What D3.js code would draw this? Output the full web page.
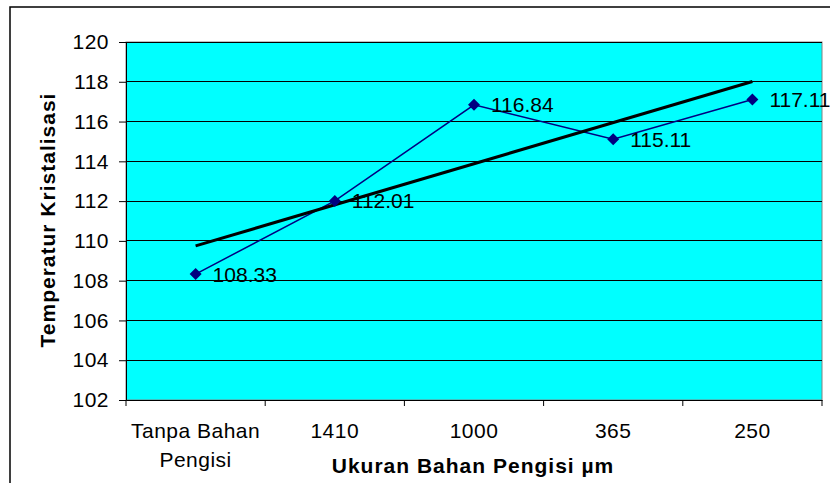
<!DOCTYPE html>
<html><head><meta charset="utf-8">
<script src="https://cdn.jsdelivr.net/npm/d3@7"></script>
<style>html,body{margin:0;padding:0;background:#fff;}svg{display:block;font-family:"Liberation Sans",Arial,sans-serif;}</style>
</head><body><svg id="c" width="830" height="483"></svg>
<script>
const categories = ["Tanpa Bahan|Pengisi", "1410", "1000", "365", "250"];
const values = [108.33, 112.01, 116.84, 115.11, 117.11];
const yTicks = [102,104,106,108,110,112,114,116,118,120];
const yTitle = "Temperatur Kristalisasi";
const xTitle = "Ukuran Bahan Pengisi µm";

const svg = d3.select("#c");
const L=126, R=822, T=42, B=400;
const FF = "Liberation Sans, Arial, sans-serif";
// outer frame
svg.append("rect").attr("x",10).attr("y",7).attr("width",840).attr("height",500)
  .attr("fill","#fff").attr("stroke","#000").attr("stroke-width",1.5);

const x = d3.scaleBand().domain(categories).range([L,R]).padding(0);
const y = d3.scaleLinear().domain([102,120]).range([B,T]);

svg.append("rect").attr("x",L).attr("y",T).attr("width",R-L).attr("height",B-T)
  .attr("fill","#00FFFF").attr("stroke","#808080").attr("stroke-width",1);

// gridlines
svg.append("g").selectAll("line").data(yTicks.filter(d=>d>102)).join("line")
  .attr("x1",L).attr("x2",R).attr("y1",d=>y(d)).attr("y2",d=>y(d))
  .attr("stroke","#000").attr("stroke-width",1).attr("shape-rendering","crispEdges");

// y axis
const ya = svg.append("g").attr("transform",`translate(${L},0)`)
  .call(d3.axisLeft(y).tickValues(yTicks).tickSize(7).tickPadding(10).tickFormat(d3.format("d")));
ya.attr("font-size",21).attr("font-family",FF);
ya.select(".domain").attr("stroke","#000");
ya.selectAll("text").attr("font-size",21).attr("fill","#000").attr("letter-spacing",0.5);

// x axis
const xa = svg.append("g").attr("transform",`translate(0,${B})`)
  .call(d3.axisBottom(x).tickSize(0).tickFormat(""));
xa.select(".domain").attr("stroke","#000");
const bounds = categories.map((c,i)=>x(c)).concat([R]);
xa.selectAll(".edge").data(bounds).join("line").attr("class","edge")
  .attr("x1",d=>d).attr("x2",d=>d).attr("y1",0).attr("y2",6).attr("stroke","#000");
const xl = svg.append("g").selectAll("text").data(categories).join("text")
  .attr("x",d=>x(d)+x.bandwidth()/2).attr("y",B+38)
  .attr("text-anchor","middle").attr("font-size",21).attr("letter-spacing",0.5).attr("fill","#000");
xl.each(function(d){
  const parts=d.split("|");
  d3.select(this).selectAll("tspan").data(parts).join("tspan")
    .attr("x",x(d)+x.bandwidth()/2).attr("dy",(p,i)=>i?29:0).text(p=>p);
});

// titles
svg.append("text").attr("x",473).attr("y",473).attr("text-anchor","middle")
  .attr("font-size",21).attr("letter-spacing",1).attr("font-weight","bold").text(xTitle);
svg.append("text").attr("transform",`translate(55,220) rotate(-90)`)
  .attr("text-anchor","middle").attr("font-size",21).attr("letter-spacing",1).attr("font-weight","bold").text(yTitle);

// series
const cx = d=>x(d)+x.bandwidth()/2;
const pts = categories.map((c,i)=>[cx(c), y(values[i])]);
svg.append("path").attr("d",d3.line()(pts)).attr("fill","none").attr("stroke","#000080").attr("stroke-width",1.5);

// linear trendline
const n=values.length, xs=d3.range(1,n+1);
const mx=d3.mean(xs), my=d3.mean(values);
const slope=d3.sum(xs.map((v,i)=>(v-mx)*(values[i]-my)))/d3.sum(xs.map(v=>(v-mx)**2));
const icpt=my-slope*mx;
svg.append("line").attr("x1",cx(categories[0])).attr("y1",y(icpt+slope*1))
  .attr("x2",cx(categories[n-1])).attr("y2",y(icpt+slope*n))
  .attr("stroke","#000").attr("stroke-width",3);

svg.append("g").selectAll("path").data(pts).join("path")
  .attr("transform",d=>`translate(${d[0]},${d[1]})`)
  .attr("d","M0,-6L6,0L0,6L-6,0Z").attr("fill","#000080");

svg.append("g").selectAll("text").data(values).join("text")
  .attr("x",(d,i)=>pts[i][0]+17).attr("y",(d,i)=>pts[i][1]+7.5)
  .attr("font-size",21).attr("fill","#000").text(d=>d.toFixed(2));
</script></body></html>
